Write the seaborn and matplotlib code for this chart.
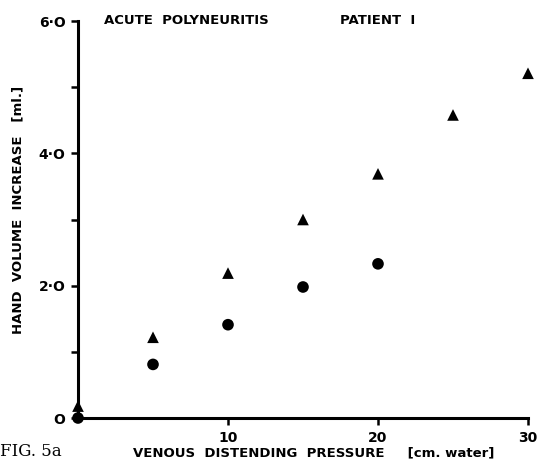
import matplotlib
matplotlib.use("Agg")
import matplotlib.pyplot as plt
import seaborn as sns
import pandas as pd

# Data
pressure_tri = [0, 5, 10, 15, 20, 25, 30]
volume_tri = [0.18, 1.22, 2.19, 3.00, 3.69, 4.58, 5.21]
pressure_circ = [0, 5, 10, 15, 20]
volume_circ = [0.0, 0.81, 1.41, 1.98, 2.33]

x_ticks = [10, 20, 30]
x_ticklabels = ["10", "20", "30"]
y_ticks = [0, 1, 2, 3, 4, 5, 6]
y_ticklabels = ["O", "", "2·O", "", "4·O", "", "6·O"]

df = pd.DataFrame({
    "pressure": pressure_tri + pressure_circ,
    "volume": volume_tri + volume_circ,
    "series": ["tri"] * len(pressure_tri) + ["circ"] * len(pressure_circ),
})

sns.set_style("ticks")
plt.rcParams["font.family"] = ["DejaVu Sans"]
plt.rcParams["text.color"] = "black"
plt.rcParams["xtick.color"] = "black"
plt.rcParams["ytick.color"] = "black"
plt.rcParams["axes.labelcolor"] = "black"

fig = plt.figure(figsize=(5.38, 4.66), dpi=100)
ax = fig.add_axes([78 / 538, 1 - 418 / 466, 450 / 538, 397 / 466])

sns.scatterplot(data=df, x="pressure", y="volume", style="series",
                markers={"tri": "^", "circ": "o"}, color="black",
                s=70, linewidth=0, legend=False, ax=ax, clip_on=False)

ax.set_xlim(0, 30)
ax.set_ylim(0, 6)
sns.despine(ax=ax)
for sp in ["left", "bottom"]:
    ax.spines[sp].set_linewidth(2.2)
    ax.spines[sp].set_color("black")
ax.set_xticks(x_ticks)
ax.set_xticklabels(x_ticklabels, fontsize=10, fontweight="bold", color="black")
ax.set_yticks(y_ticks)
ax.set_yticklabels(y_ticklabels, fontsize=10, fontweight="bold", color="black")
ax.tick_params(axis="both", length=5, width=1.8, color="black",
               labelcolor="black", pad=4)
ax.set_xlabel("")
ax.set_ylabel("")

fig.text(0.5 * (133 + 495) / 538, 1 - 453 / 466,
         "VENOUS  DISTENDING  PRESSURE     [cm. water]",
         ha="center", va="center", fontsize=9.5, fontweight="bold", color="black")
fig.text(18 / 538, 1 - 210 / 466,
         "HAND  VOLUME  INCREASE   [ml.]",
         ha="center", va="center", rotation=90, fontsize=9.5, fontweight="bold",
         color="black")
fig.text(104 / 538, 1 - 20 / 466, "ACUTE  POLYNEURITIS",
         ha="left", va="center", fontsize=9.5, fontweight="bold", color="black")
fig.text(340 / 538, 1 - 20 / 466, "PATIENT  I",
         ha="left", va="center", fontsize=9.5, fontweight="bold", color="black")
fig.text(0.0, 1 - 452 / 466, "FIG. 5a", ha="left", va="center",
         fontsize=12, family="DejaVu Serif", color="black")

fig.savefig("out.png", dpi=100)
